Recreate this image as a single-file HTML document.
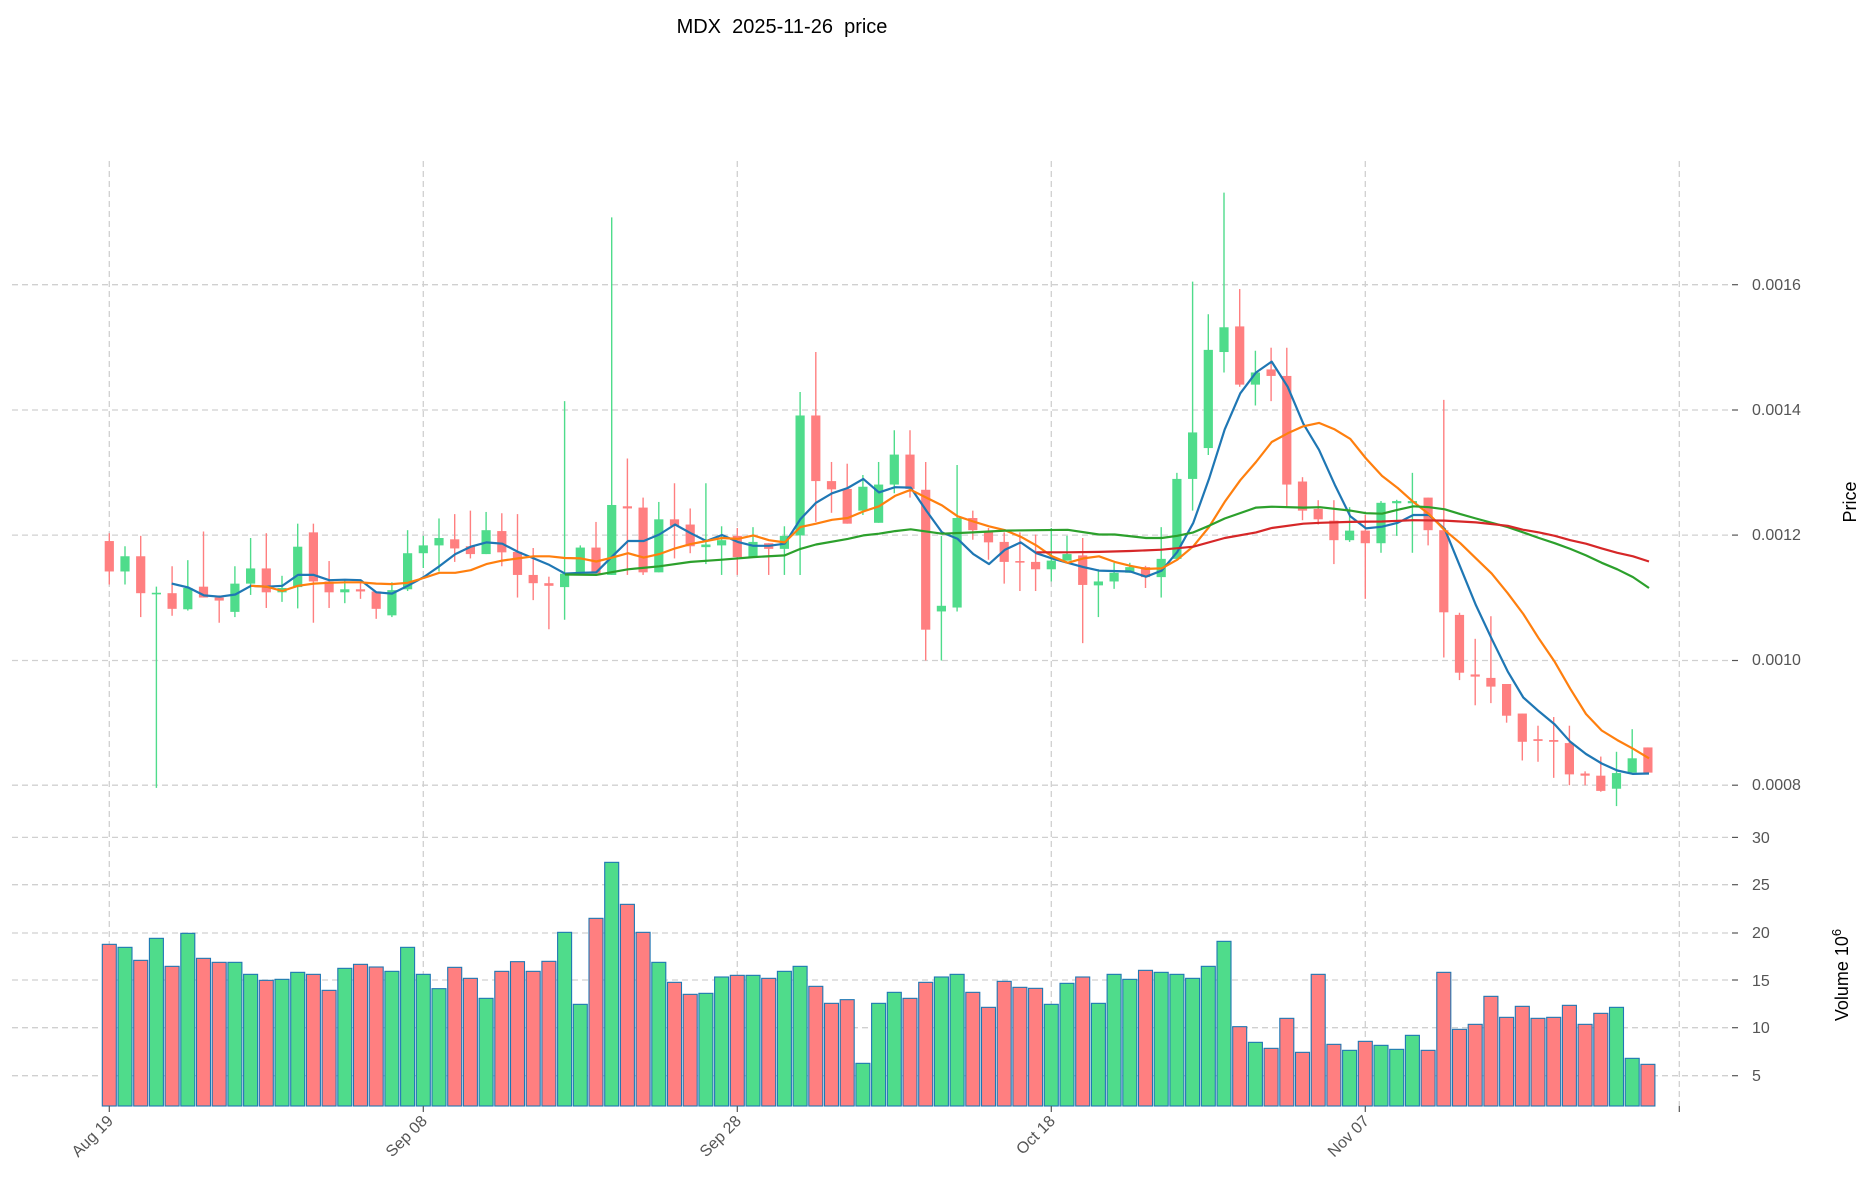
<!DOCTYPE html>
<html><head><meta charset="utf-8">
<style>
html,body{margin:0;padding:0;background:#fff;}
svg{display:block;font-family:"Liberation Sans",sans-serif;}
.pre{white-space:pre;}
</style></head>
<body>
<svg id="c" xmlns="http://www.w3.org/2000/svg" width="1873" height="1202" viewBox="0 0 1873 1202">
<rect width="1873" height="1202" fill="#fff"/>
<g id="grid" stroke="#d0d0d0" stroke-width="1.3" stroke-dasharray="6,4" fill="none"></g>
<g id="vol"></g>
<g id="cand"></g>
<g id="lines" fill="none" stroke-width="2.2" stroke-linejoin="round"></g>
<g id="ticks" stroke="#555" stroke-width="1.2"></g>
<text class="pre" xml:space="preserve" x="782" y="33" font-size="20" text-anchor="middle" fill="#000">MDX  2025-11-26  price</text>
<g font-size="16" fill="#555">
<text x="1752" y="290">0.0016</text>
<text x="1752" y="415">0.0014</text>
<text x="1752" y="540">0.0012</text>
<text x="1752" y="665">0.0010</text>
<text x="1752" y="790">0.0008</text>
<text x="1752" y="843">30</text>
<text x="1752" y="890">25</text>
<text x="1752" y="938">20</text>
<text x="1752" y="986">15</text>
<text x="1752" y="1033">10</text>
<text x="1752" y="1081">5</text>
</g>
<text transform="translate(1856,502) rotate(-90)" font-size="18" text-anchor="middle" fill="#000">Price</text>
<text transform="translate(1848,975) rotate(-90)" font-size="18" text-anchor="middle" fill="#000">Volume  10<tspan dy="-7" font-size="13">6</tspan></text>
<g font-size="16" fill="#555" text-anchor="end">
<text transform="translate(114,1122) rotate(-45)">Aug 19</text>
<text transform="translate(428,1122) rotate(-45)">Sep 08</text>
<text transform="translate(742,1122) rotate(-45)">Sep 28</text>
<text transform="translate(1056,1122) rotate(-45)">Oct 18</text>
<text transform="translate(1370,1122) rotate(-45)">Nov 07</text>
</g>
</svg>
<script>
var NS="http://www.w3.org/2000/svg";
function el(p,t,a){var e=document.createElementNS(NS,t);for(var k in a)e.setAttribute(k,a[k]);document.getElementById(p).appendChild(e);return e;}
var X0=109.3,DX=15.7;
function py(z){return 150+z*0.4345;}
function cx(i){return X0+DX*i;}
[284.7,410,535.1,660.5,785.2].forEach(function(y){el('grid','line',{x1:12,x2:1732,y1:y,y2:y});});
[837.4,884.7,933,980,1027.7,1075.7].forEach(function(y){el('grid','line',{x1:12,x2:1732,y1:y,y2:y});});
[0,20,40,60,80,100].forEach(function(i){el('grid','line',{x1:cx(i),x2:cx(i),y1:161,y2:1106});});
[284.7,410,535.1,660.5,785.2,837.4,884.7,933,980,1027.7,1075.7].forEach(function(y){el('ticks','line',{x1:1732,x2:1738,y1:y,y2:y});});
[0,20,40,60,80,100].forEach(function(i){el('ticks','line',{x1:cx(i),x2:cx(i),y1:1106,y2:1112});});
var C=[[900,882,1000,970],[970,912,1000,935],[935,888,1075,1020],[1021,1005,1468,1019],[1020,958,1072,1056],[1057,944,1060,1008],[1005,878,1030,1030],[1030,1025,1088,1037],[1063,958,1075,998],[998,893,1024,963],[963,882,1054,1018],[1018,980,1040,1008],[1006,860,1055,913],[880,860,1088,993],[993,946,1054,1018],[1018,990,1043,1011],[1011,993,1033,1016],[1016,1016,1079,1056],[1071,995,1075,1013],[1011,875,1015,928],[928,888,962,910],[910,848,970,893],[896,838,948,917],[912,830,940,930],[930,833,930,875],[877,836,958,926],
[925,838,1030,978],[978,916,1036,997],[997,982,1103,1003],[1006,578,1081,975],[975,910,975,915],[915,856,975,975],[978,155,978,817],[820,710,978,825],[823,800,978,972],[972,810,972,850],[850,767,940,865],[862,825,928,912],[914,767,953,908],[910,866,978,898],[888,870,978,937],[937,868,937,902],[905,905,978,918],[918,866,978,888],[887,557,978,611],[611,465,856,762],[762,718,835,781],[780,722,860,860],[830,748,840,775],[858,718,858,770],[770,645,790,701],[701,645,800,780],
[782,718,1175,1104],[1062,888,1175,1049],[1053,725,1062,847],[847,830,897,875],[877,870,943,903],[902,880,998,948],[946,880,1015,948],[948,885,1015,965],[965,870,993,945],[945,888,945,930],[933,893,1135,1001],[1002,965,1075,993],[993,950,1010,973],[973,950,973,960],[960,957,1008,983],[983,868,1030,941],[941,743,941,757],[757,303,830,650],[686,378,702,460],[465,98,512,408],[406,320,545,540],[540,462,588,512],[505,455,578,520],[520,455,820,770],[763,753,852,830],[826,806,862,850],
[853,806,953,898],[898,822,902,876],[876,840,1033,905],[905,808,927,812],[813,805,888,808],[813,743,927,808],[800,800,910,875],[875,575,1168,1064],[1070,1065,1220,1203],[1207,1125,1278,1212],[1215,1073,1273,1235],[1229,1229,1318,1302],[1297,1297,1405,1362],[1356,1325,1408,1360],[1358,1305,1445,1362],[1365,1325,1462,1437],[1435,1430,1462,1440],[1440,1396,1477,1475],[1470,1385,1510,1434],[1433,1333,1433,1400],[1375,1375,1433,1433]];
var G="#4fdc8b",R="#ff7f80";
C.forEach(function(c,i){
 var up=c[3]<c[0],col=up?G:R,x=cx(i);
 el('cand','line',{x1:x,x2:x,y1:py(c[1]),y2:py(c[2]),stroke:col,'stroke-width':1.4});
 var t=py(Math.min(c[0],c[3])),b=py(Math.max(c[0],c[3]));
 el('cand','rect',{x:x-4.6,y:t,width:9.2,height:Math.max(b-t,1.6),fill:col});
});
var V=[313,322,361,295,379,280,355,367,367,403,421,418,397,403,451,385,373,381,394,322,403,446,382,415,475,394,365,394,364,277,493,235,67,193,277,367,427,463,460,411,406,406,415,394,379,439,490,479,670,490,457,475,427,411,403,457,502,424,442,445,493,430,411,490,403,418,391,397,403,415,379,304,560,607,625,535,637,403,613,631,604,616,628,586,631,397,568,553,469,532,499,535,532,496,553,520,502,655,673];
V.forEach(function(v,i){
 var c=C[i],up=c[3]<c[0],y=840+v/3,x=cx(i);
 el('vol','rect',{x:x-7,y:y,width:14,height:1106-y,fill:up?G:R,stroke:"#1f77b4",'stroke-width':1.1});
});
function L(segs,col){var pts=[];segs.forEach(function(s){var ox=s[0];s[1].forEach(function(p){pts.push((ox+p[0]/3).toFixed(1)+","+py(p[1]).toFixed(1));});});el('lines','polyline',{points:pts.join(" "),stroke:col});}
L([[90,[[245,998],[295,1007],[342,1025],[389,1028],[436,1023],[483,1003],[530,1005],[577,1003],[624,978],[671,978],[718,990],[765,989],[812,990],[859,1018],[906,1021],[953,1003],[1001,983],[1048,958],[1096,930],[1142,913],[1189,903],[1237,906]]],
 [500,[[54,925],[101,940],[148,955],[195,975],[242,973],[289,972],[337,935],[384,900],[431,900],[478,885],[525,862],[572,882],[619,900],[666,886],[713,902],[760,911],[807,911],[854,906],[901,850],[948,812],[996,790],[1043,778],[1090,757],[1137,788],[1185,776],[1232,777]]],
 [910,[[49,830],[96,880],[143,895],[190,930],[237,953],[285,920],[332,903],[379,928],[426,940],[473,950],[520,960],[567,968],[661,970],[708,982],[755,968],[802,925],[850,858],[897,757],[944,643],[991,560],[1038,512],[1085,487],[1133,545],[1180,630],[1227,690]]],
 [1320,[[44,770],[91,843],[138,871],[186,867],[233,858],[280,840],[327,840],[374,872],[421,960],[468,1048],[515,1125],[563,1200],[610,1260],[657,1292],[704,1322],[751,1362],[798,1390],[845,1412],[892,1428],[939,1436],[987,1435]]]],"#1f77b4");
L([[90,[[483,1003],[530,1005],[577,1015],[624,1003],[671,998],[718,996],[765,995],[812,995],[859,998],[906,999],[953,996],[1001,985],[1048,973],[1096,973],[1142,967],[1189,953],[1237,945]]],
 [500,[[54,940],[101,935],[148,935],[195,939],[242,940],[289,947],[337,938],[384,928],[431,938],[478,930],[525,917],[572,907],[619,900],[666,893],[713,895],[760,887],[807,898],[854,903],[901,868],[948,860],[996,851],[1043,847],[1090,832],[1137,820],[1185,796],[1232,782]]],
 [910,[[49,800],[96,818],[143,843],[190,855],[237,866],[285,875],[332,890],[379,910],[426,935],[473,950],[520,940],[567,935],[614,948],[661,957],[708,964],[755,963],[802,943],[850,912],[897,868],[944,810],[991,760],[1038,718],[1085,672],[1133,652],[1180,636],[1227,628]]],
 [1320,[[44,643],[91,665],[138,710],[186,750],[233,778],[280,810],[327,838],[374,875],[421,905],[468,940],[515,975],[563,1020],[610,1068],[657,1125],[704,1178],[751,1240],[798,1298],[845,1336],[892,1358],[939,1378],[987,1400]]]],"#ff7f0e");
L([[500,[[195,977],[289,978],[384,965],[478,958],[572,948],[666,943],[760,937],[854,933],[901,918],[948,908],[1043,895],[1090,887],[1137,883],[1185,877],[1232,873]]],
 [910,[[96,883],[190,880],[285,876],[379,875],[473,874],[567,885],[614,885],[708,893],[755,893],[802,888],[850,880],[897,865],[944,848],[1038,823],[1085,821],[1180,823]]],
 [1320,[[0,822],[91,830],[138,836],[186,837],[233,828],[280,820],[327,822],[374,827],[421,838],[468,848],[515,858],[563,868],[610,880],[657,893],[704,905],[751,918],[798,933],[845,950],[892,965],[939,983],[987,1008]]]],"#2ca02c");
L([[910,[[379,926],[473,926],[567,925],[661,923],[755,920],[850,913],[944,893],[1038,880],[1085,870],[1180,860]]],
 [1320,[[0,858],[91,856],[186,855],[280,852],[374,853],[468,857],[563,865],[610,874],[657,880],[704,888],[751,898],[798,906],[845,917],[892,927],[939,935],[987,947]]]],"#d62728");
</script>
</body></html>
